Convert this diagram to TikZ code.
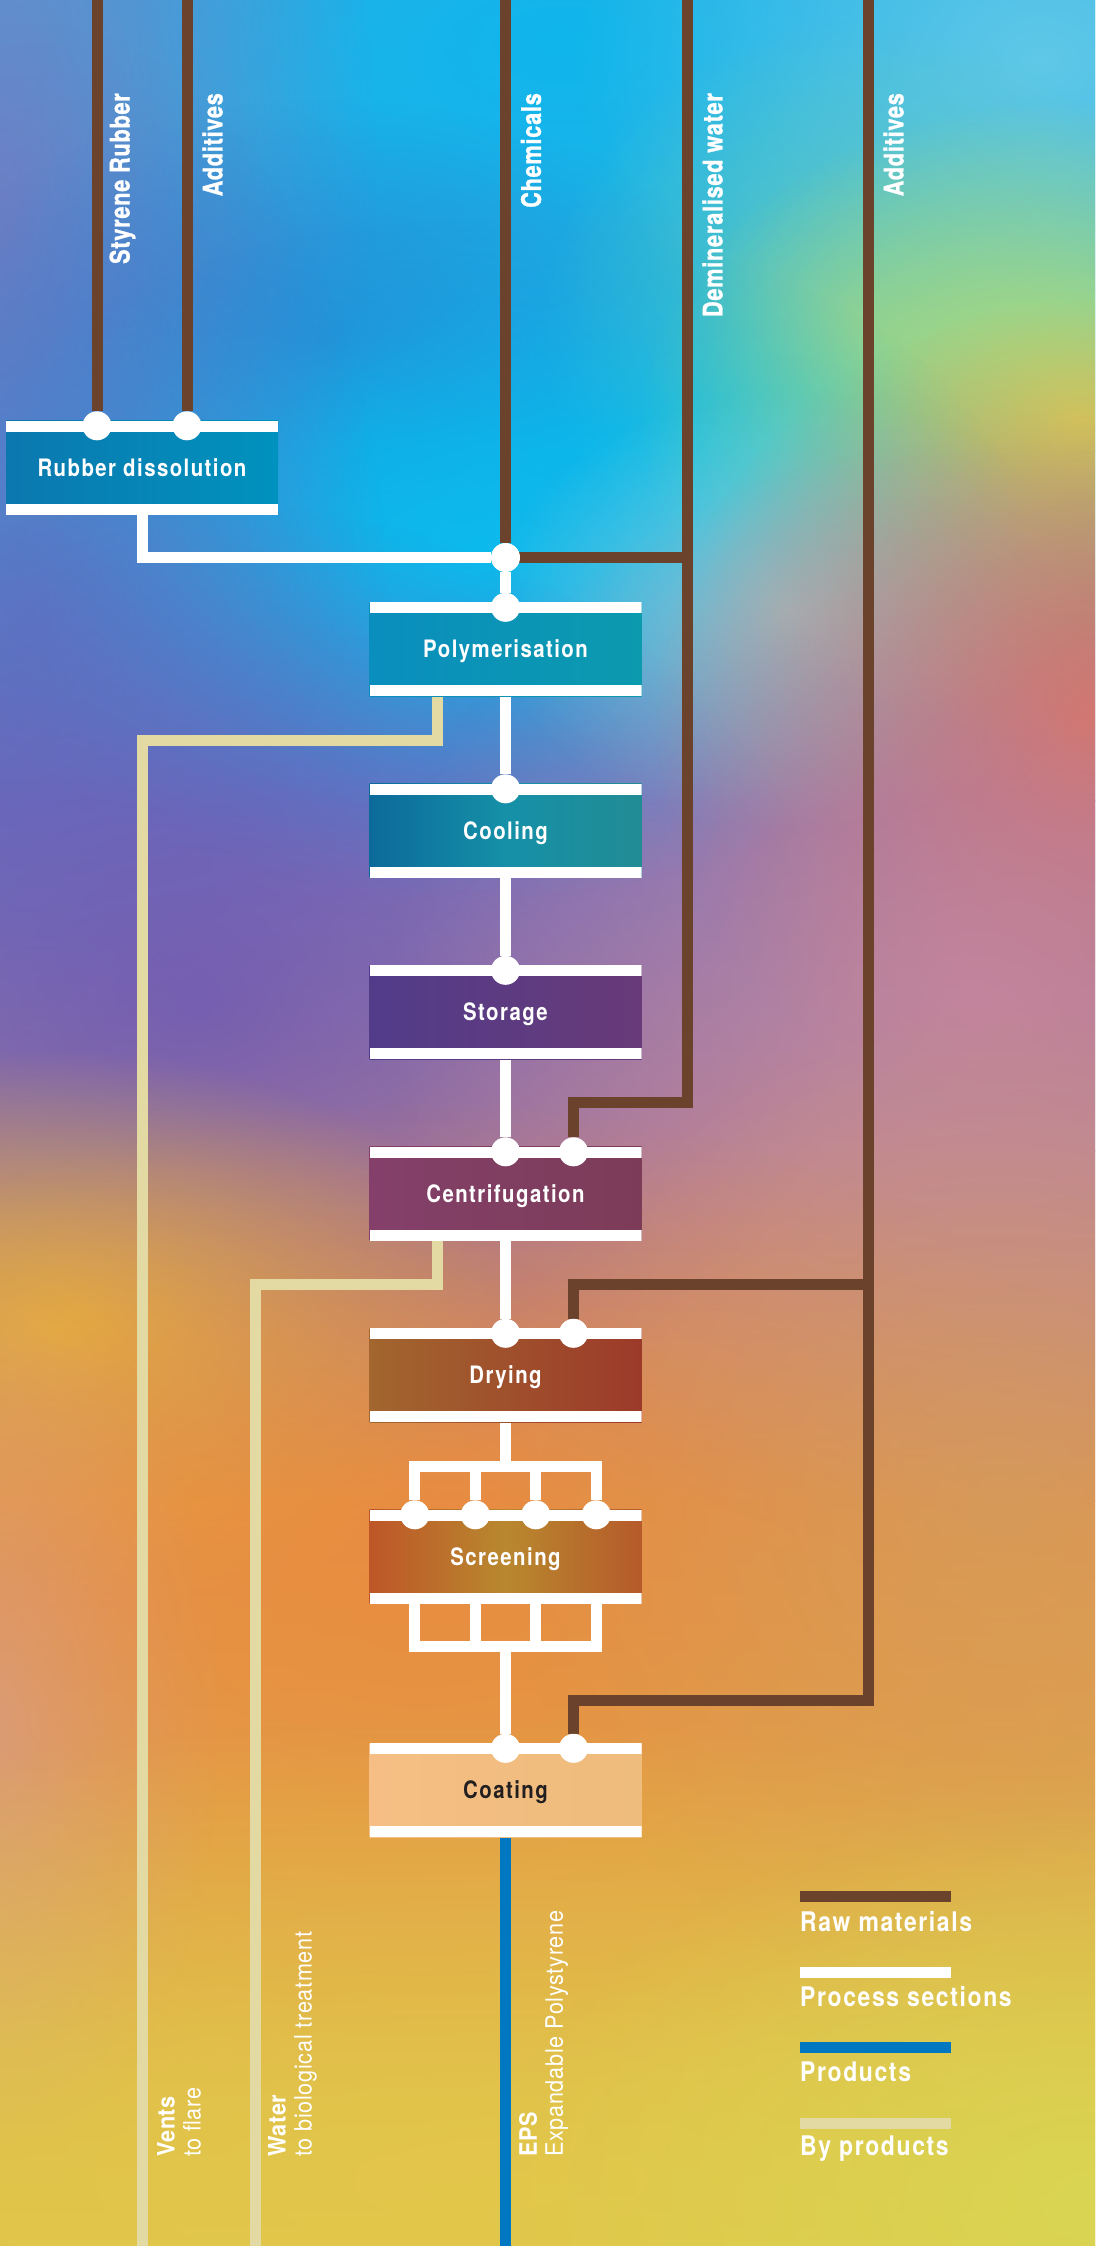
\documentclass[tikz,border=0pt]{standalone}
\usepackage{fontspec}
\setmainfont{TeX Gyre Heros}
\newfontfamily\stagefont{TeX Gyre Heros}[FakeStretch=0.85,LetterSpace=6]
\newfontfamily\feedfont{TeX Gyre Heros}[FakeStretch=0.8,LetterSpace=3,FakeBold=1]
\newfontfamily\outfont{TeX Gyre Heros}[FakeStretch=0.9,LetterSpace=3]
\usetikzlibrary{calc,fadings}
\definecolor{rawBrown}{HTML}{6B422B}
\definecolor{prodBlue}{HTML}{0077C1}
\definecolor{bypCream}{HTML}{E2D9A3}
\definecolor{coatText}{HTML}{231F20}
% unit fills
\definecolor{rubL}{HTML}{0B78AE}\definecolor{rubR}{HTML}{0092BE}
\definecolor{polyL}{HTML}{0A8EBE}\definecolor{polyR}{HTML}{0C9AAE}
\definecolor{coolL}{HTML}{0C6A9A}\definecolor{coolM}{HTML}{1590A8}\definecolor{coolR}{HTML}{228C94}
\definecolor{storL}{HTML}{523C8A}\definecolor{storR}{HTML}{683A78}
\definecolor{centL}{HTML}{84406A}\definecolor{centR}{HTML}{7C3C58}
\definecolor{dryL}{HTML}{A2662E}\definecolor{dryR}{HTML}{9C3A2A}
\definecolor{scrL}{HTML}{BE5628}\definecolor{scrM}{HTML}{B8882E}\definecolor{scrR}{HTML}{B65A2A}
\definecolor{coatL}{HTML}{F6BE84}\definecolor{coatR}{HTML}{EEBC7C}
% background paint
\definecolor{bgA}{HTML}{2CAEE4}\definecolor{bgB}{HTML}{0CBCEC}\definecolor{bgC}{HTML}{6E74C4}
\definecolor{bgD}{HTML}{B88490}\definecolor{bgE}{HTML}{E4904A}\definecolor{bgF}{HTML}{DCC44C}
\definecolor{pCyan}{HTML}{10B6EC}\definecolor{pLilac}{HTML}{7C7EC2}\definecolor{pBlue}{HTML}{2F7CCE}
\definecolor{pSky}{HTML}{60C8E8}\definecolor{pGreen}{HTML}{78CCA8}\definecolor{pLime}{HTML}{D6E25A}
\definecolor{pAqua}{HTML}{06BEF0}\definecolor{pMint}{HTML}{A0D6D4}\definecolor{pRed}{HTML}{E06C50}
\definecolor{pIndigo}{HTML}{5C70C2}\definecolor{pViolet}{HTML}{7058B2}\definecolor{pMauve}{HTML}{C888A0}
\definecolor{pGold}{HTML}{E8B83C}\definecolor{pRose}{HTML}{D2A49C}\definecolor{pOrange}{HTML}{EA8A3C}
\definecolor{pTan}{HTML}{CFA262}\definecolor{pYellow}{HTML}{E4C84A}\definecolor{pOlive}{HTML}{D8DA54}
\pgfdeclarelayer{paint}
\pgfdeclarelayer{pipes}
\pgfsetlayers{paint,pipes,main}
\tikzfading[name=blob, inner color=transparent!0, outer color=transparent!100]

\begin{document}
\begin{tikzpicture}[x=1pt, y=1pt,
  stage/.style={minimum width=272pt, minimum height=94pt, inner sep=0pt, text=white,
    text height=17pt, text depth=0pt, font=\stagefont\bfseries\fontsize{24}{26}\selectfont,
    path picture={
      \fill[white] (path picture bounding box.north west) rectangle ([yshift=-11pt]path picture bounding box.north east);
      \fill[white] (path picture bounding box.south west) rectangle ([yshift=11pt]path picture bounding box.south east);}},
  dot/.style={circle, fill=white, inner sep=0pt, minimum size=29pt},
  rawline/.style={draw=rawBrown, line width=11pt},
  procline/.style={draw=white, line width=11pt},
  prodline/.style={draw=prodBlue, line width=11pt},
  bypline/.style={draw=bypCream, line width=11pt},
  feed/.style={rotate=90, anchor=east, inner sep=0pt, text=white, font=\feedfont\bfseries\fontsize{27}{30}\selectfont},
  outlet/.style={rotate=90, anchor=north west, inner sep=0pt, align=left, text=white, font=\outfont\fontsize{24}{26}\selectfont},
  legtxt/.style={anchor=north west, inner sep=0pt, text=white, font=\stagefont\bfseries\fontsize{27}{30}\selectfont},
  patch/.style={path fading=blob, fill=#1}]
\useasboundingbox (0,0) rectangle (1095,-2246);

% ---------- painted background ----------
\begin{pgfonlayer}{paint}
  \clip (0,0) rectangle (1095,-2246);
  \fill[top color=bgA, bottom color=bgB] (0,1) rectangle (1095,-451);
  \fill[top color=bgB, bottom color=bgC] (0,-450) rectangle (1095,-801);
  \fill[top color=bgC, bottom color=bgD] (0,-800) rectangle (1095,-1151);
  \fill[top color=bgD, bottom color=bgE] (0,-1150) rectangle (1095,-1501);
  \fill[top color=bgE, bottom color=bgF] (0,-1500) rectangle (1095,-2247);
  % soft colour patches
  \fill[patch=pCyan] (560,-40) ellipse (560 and 320);
  \fill[patch=pLilac, fill opacity=.9] (0,-220) ellipse (380 and 860);
  \fill[patch=pBlue, fill opacity=.8] (330,-340) ellipse (420 and 240);
  \fill[patch=pSky] (1040,-60) ellipse (460 and 360);
  \fill[patch=pGreen, fill opacity=.75] (860,-320) ellipse (320 and 300);
  \fill[patch=pLime, fill opacity=.95] (1080,-420) ellipse (440 and 320);
  \fill[patch=pAqua, fill opacity=.85] (470,-560) ellipse (560 and 340);
  \fill[patch=pMint, fill opacity=.8] (790,-610) ellipse (300 and 220);
  \fill[patch=pRed, fill opacity=.95] (1095,-720) ellipse (440 and 420);
  \fill[patch=pIndigo, fill opacity=.8] (30,-620) ellipse (360 and 600);
  \fill[patch=pViolet, fill opacity=.8] (200,-1000) ellipse (640 and 500);
  \fill[patch=pMauve, fill opacity=.8] (980,-1000) ellipse (600 and 560);
  \fill[patch=pGold, fill opacity=.9] (60,-1330) ellipse (460 and 280);
  \fill[patch=pRose, fill opacity=.8] (0,-1720) ellipse (220 and 440);
  \fill[patch=pOrange, fill opacity=.7] (420,-1600) ellipse (800 and 500);
  \fill[patch=pTan, fill opacity=.6] (1000,-1500) ellipse (500 and 500);
  \fill[patch=pYellow, fill opacity=.8] (500,-2180) ellipse (1400 and 460);
  \fill[patch=pOlive, fill opacity=.8] (1095,-2200) ellipse (600 and 400);
\end{pgfonlayer}

% ---------- process units ----------
\node[stage, left color=rubL, right color=rubR] (rubber) at (142,-467.5) {Rubber dissolution};
\node[stage, left color=polyL, right color=polyR] (poly) at (505.5,-649) {Polymerisation};
\node[stage, left color=coolL, right color=coolR, middle color=coolM] (cool) at (505.5,-830.5) {Cooling};
\node[stage, left color=storL, right color=storR] (stor) at (505.5,-1012) {Storage};
\node[stage, left color=centL, right color=centR] (cent) at (505.5,-1193.5) {Centrifugation};
\node[stage, left color=dryL, right color=dryR] (dry) at (505.5,-1375) {Drying};
\node[stage, left color=scrL, right color=scrR, middle color=scrM] (scr) at (505.5,-1556.5) {Screening};
\node[stage, left color=coatL, right color=coatR, text=coatText] (coat) at (505.5,-1790) {Coating};

% ---------- inlet dots ----------
\node[dot] (rub-in1) at ([xshift=-45pt,yshift=-5.5pt]rubber.north) {};
\node[dot] (rub-in2) at ([xshift=45pt,yshift=-5.5pt]rubber.north) {};
\node[dot] (junc) at (505.5,-557.5) {};
\foreach \u in {poly,cool,stor,cent,dry,coat}
  \node[dot] (\u-in) at ([yshift=-5.5pt]\u.north) {};
\foreach \u in {cent,dry,coat}
  \node[dot] (\u-in2) at ([xshift=68pt,yshift=-5.5pt]\u.north) {};
\foreach \i/\dx in {1/-90.75,2/-30.25,3/30.25,4/90.75}
  \node[dot] (scr-in\i) at ([xshift=\dx pt,yshift=-5.5pt]scr.north) {};

% ---------- feeds ----------
\coordinate (styrTop) at (97,0);
\coordinate (add1Top) at (187,0);
\coordinate (chemTop) at (505.5,0);
\coordinate (deminTop) at (687,0);
\coordinate (add2Top) at (868,0);
\node[feed] (lStyr) at (122.5,-93) {Styrene Rubber};
\node[feed] (lAdd1) at (212.5,-93) {Additives};
\node[feed] (lChem) at (531,-93) {Chemicals};
\node[feed] (lDemin) at (712.5,-93) {Demineralised water};
\node[feed] (lAdd2) at (893.5,-93) {Additives};

% ---------- outlets ----------
\coordinate (ventEnd) at (142.5,-2246);
\coordinate (waterEnd) at (255.5,-2246);
\coordinate (epsEnd) at (505.5,-2246);
\node[outlet] (lVents) at (157,-2157) {{\bfseries Vents}\\to flare};
\node[outlet] (lWater) at (268,-2157) {{\bfseries Water}\\to biological treatment};
\node[outlet] (lEps) at (519,-2157) {{\bfseries EPS}\\Expandable Polystyrene};

% ---------- legend ----------
\fill[rawBrown] (800,-1891) rectangle (951,-1902);
\node[legtxt] (legRaw) at (800,-1911) {Raw materials};
\fill[white] (800,-1967) rectangle (951,-1978);
\node[legtxt] (legProc) at (800,-1986) {Process sections};
\fill[prodBlue] (800,-2042) rectangle (951,-2053);
\node[legtxt] (legProd) at (800,-2062) {Products};
\fill[bypCream] (800,-2118) rectangle (951,-2129);
\node[legtxt] (legByp) at (800,-2136) {By products};

% ---------- pipes ----------
\begin{pgfonlayer}{pipes}
  % raw materials
  \draw[rawline] (styrTop) -- (rub-in1);
  \draw[rawline] (add1Top) -- (rub-in2);
  \draw[rawline] (chemTop) -- (junc);
  \draw[rawline] (junc.center) -- (junc -| deminTop);
  \coordinate (deminKink) at (687,-1102);
  \draw[rawline] (deminTop) -- (deminKink) -| (cent-in2);
  \coordinate (add2Kink) at (868,-1700);
  \draw[rawline] (add2Top) -- (add2Kink) -| (coat-in2);
  \coordinate (add2Tee) at (868,-1284.5);
  \draw[rawline] (add2Tee) -| (dry-in2);
  % process sections
  \draw[procline] (rubber.south) |- (junc);
  \draw[procline] (junc) -- (poly-in);
  \draw[procline] (poly.south) -- (cool-in);
  \draw[procline] (cool.south) -- (stor-in);
  \draw[procline] (stor.south) -- (cent-in);
  \draw[procline] (cent.south) -- (dry-in);
  \coordinate (splitTop) at (505.5,-1466.5);
  \draw[procline] (dry.south) -- (splitTop);
  \draw[procline] (scr-in1) |- (splitTop) -| (scr-in4);
  \draw[procline] (scr-in2) -- (scr-in2 |- splitTop);
  \draw[procline] (scr-in3) -- (scr-in3 |- splitTop);
  \coordinate (joinBot) at (505.5,-1646);
  \draw[procline] (scr.south -| scr-in1) |- (joinBot) -| (scr.south -| scr-in4);
  \draw[procline] (scr.south -| scr-in2) -- (scr-in2 |- joinBot);
  \draw[procline] (scr.south -| scr-in3) -- (scr-in3 |- joinBot);
  \draw[procline] (joinBot) -- (coat-in);
  % product
  \draw[prodline] (coat.south) -- (epsEnd);
  % by products
  \draw[bypline] ([xshift=-68pt]poly.south) -- ++(0,-44) -| (ventEnd);
  \draw[bypline] ([xshift=-68pt]cent.south) -- ++(0,-44) -| (waterEnd);
\end{pgfonlayer}
\end{tikzpicture}
\end{document}
